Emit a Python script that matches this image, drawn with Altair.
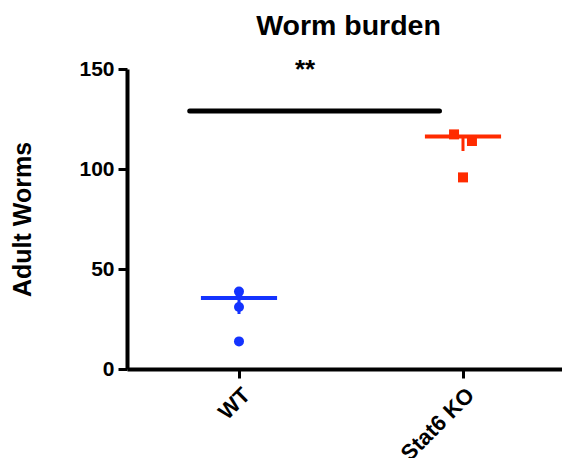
import altair as alt
import pandas as pd

groups = ["WT", "Stat6 KO"]
group_pos = [1, 2]
wt_values = [38.7, 31.0, 13.8]
wt_pos = [1.0, 1.0, 1.0]
ko_values = [117.3, 114.0, 95.8]
ko_pos = [1.96, 2.04, 2.0]
means = [35.5, 116.3]
sem_lower = [27.5, 109.0]
mean_half_width = 0.17
sig_start, sig_end, sig_y = 0.78, 1.895, 129
stars_label = "**"
stars_x, stars_y = 1.295, 149.5
colors = ["#1433ff", "#ff2b00"]
shapes = ["circle", "square"]
y_ticks = [0, 50, 100, 150]

FONT = "Liberation Sans"

pts = pd.DataFrame({
    "x": wt_pos + ko_pos,
    "y": wt_values + ko_values,
    "g": [groups[0]] * len(wt_values) + [groups[1]] * len(ko_values),
})
summ = pd.DataFrame({
    "x": group_pos,
    "x1": [p - mean_half_width for p in group_pos],
    "x2": [p + mean_half_width for p in group_pos],
    "mean": means,
    "low": sem_lower,
    "g": groups,
})
sig = pd.DataFrame({"x": [sig_start], "x2": [sig_end], "y": [sig_y]})
stars = pd.DataFrame({"x": [stars_x], "y": [stars_y], "t": [stars_label]})

xscale = alt.Scale(domain=[0.5, 2.442], nice=False, zero=False)
yscale = alt.Scale(domain=[0, 150], nice=False)
color = alt.Color("g:N", scale=alt.Scale(domain=groups, range=colors), legend=None)

label_expr = " : ".join(
    [f"datum.value == {p} ? '{g}'" for p, g in zip(group_pos, groups)]
) + " : ''"

xaxis = alt.Axis(
    values=group_pos, labelExpr=label_expr, labelAngle=-45, labelAlign="right",
    labelBaseline="top", labelFontSize=22, labelFontWeight="bold", labelFont=FONT,
    labelColor="black", tickSize=9, tickWidth=3, tickColor="black",
    domainWidth=4, domainColor="black", grid=False, title=None, labelPadding=6,
    labelOverlap=False, labelBound=False,
)
yaxis = alt.Axis(
    values=y_ticks, labelFontSize=21, labelFontWeight="bold", labelFont=FONT,
    labelColor="black", tickSize=9, tickWidth=3, tickColor="black",
    domainWidth=4, domainColor="black", grid=False, title="Adult Worms",
    titleFont=FONT, titleFontSize=25, titleFontWeight="bold", titleColor="black",
    titleAngle=-90, titleX=-105, titleY=150, titleAlign="center",
    titleBaseline="middle", labelPadding=4,
)

base_pts = alt.Chart(pts).mark_point(filled=True, size=100, opacity=1, strokeWidth=0).encode(
    x=alt.X("x:Q", scale=xscale, axis=xaxis),
    y=alt.Y("y:Q", scale=yscale, axis=yaxis),
    color=color,
    shape=alt.Shape("g:N", scale=alt.Scale(domain=groups, range=shapes), legend=None),
)

mean_lines = alt.Chart(summ).mark_rule(strokeWidth=4).encode(
    x=alt.X("x1:Q", scale=xscale, axis=xaxis),
    x2="x2:Q",
    y=alt.Y("mean:Q", scale=yscale, axis=yaxis),
    color=color,
)
err = alt.Chart(summ).mark_rule(strokeWidth=3).encode(
    x=alt.X("x:Q", scale=xscale, axis=xaxis),
    y=alt.Y("mean:Q", scale=yscale, axis=yaxis),
    y2="low:Q",
    color=color,
)
sig_line = alt.Chart(sig).mark_rule(strokeWidth=5, strokeCap="round", color="black").encode(
    x=alt.X("x:Q", scale=xscale, axis=xaxis),
    x2="x2:Q",
    y=alt.Y("y:Q", scale=yscale, axis=yaxis),
)
star_text = alt.Chart(stars).mark_text(
    fontSize=26, fontWeight="bold", font=FONT, color="black", baseline="middle", align="center"
).encode(
    x=alt.X("x:Q", scale=xscale, axis=xaxis),
    y=alt.Y("y:Q", scale=yscale, axis=yaxis),
    text="t:N",
)

chart = alt.layer(base_pts, err, mean_lines, sig_line, star_text).properties(
    width=435, height=300,
    title=alt.TitleParams("Worm burden", fontSize=28.5, fontWeight="bold", font=FONT,
                          color="black", offset=17, dx=4, anchor="middle"),
    autosize=alt.AutoSizeParams(type="none"),
    padding={"left": 119, "top": 61, "right": 0, "bottom": 90},
).configure_view(stroke=None)

chart.save("out.html", embed_options={"renderer": "svg", "actions": False})
